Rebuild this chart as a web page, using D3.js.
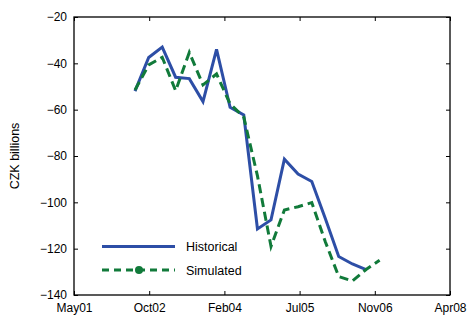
<!DOCTYPE html>
<html>
<head>
<meta charset="utf-8">
<script src="https://cdn.jsdelivr.net/npm/d3@7"></script>
<style>
  body { margin: 0; background: #fff; }
  text { font-family: "Liberation Sans", Arial, sans-serif; }
</style>
</head>
<body>
<div id="chart"></div>
<script>
// quarterly observations
const dates = [
  "2002-06-15", "2002-09-15", "2002-12-15", "2003-03-15", "2003-06-15",
  "2003-09-15", "2003-12-15", "2004-03-15", "2004-06-15", "2004-09-15",
  "2004-12-15", "2005-03-15", "2005-06-15", "2005-09-15", "2005-12-15",
  "2006-03-15", "2006-06-15", "2006-09-15", "2006-12-15"
];
const historical = [
  -52, -37.5, -33, -46, -46.6, -56.5, -34, -59, -62.3, -111.5,
  -107.6, -81.4, -87.8, -91, -107, -123.4, -126.6, -129
];
const simulated = [
  -51.5, -40.7, -37.4, -51.8, -35.3, -49.3, -44.6, -57.5, -63.2, -88.6,
  -119, -103.3, -101.9, -100.1, -117, -132, -134, -129, -125
];
const yTicks = [-140, -120, -100, -80, -60, -40, -20];
const xTickLabels = ["May01", "Oct02", "Feb04", "Jul05", "Nov06", "Apr08"];
const seriesNames = ["Historical", "Simulated"];

const W = 471, H = 317;
const margin = { left: 74, right: 21, top: 17, bottom: 22 };
const parse = d3.timeParse("%Y-%m-%d");

const svg = d3.select("#chart").append("svg")
  .attr("width", W).attr("height", H);

const x0 = parse("2001-05-01"), x1 = parse("2008-04-01");
const x = d3.scaleTime().domain([x0, x1]).range([margin.left, W - margin.right]);
const y = d3.scaleLinear().domain([-140, -20]).range([H - margin.bottom, margin.top]);

// evenly spaced date ticks, as in the original
const xTickVals = xTickLabels.map((d, i) =>
  new Date(+x0 + (x1 - x0) * i / (xTickLabels.length - 1)));

const fmtX = (d) => xTickLabels[xTickVals.findIndex(t => +t === +d)];

svg.append("g")
  .attr("transform", `translate(0,${H - margin.bottom})`)
  .call(d3.axisBottom(x).tickValues(xTickVals).tickFormat(fmtX).tickSizeInner(-4).tickSizeOuter(0).tickPadding(8))
  .call(g => g.select(".domain").remove());
svg.append("g")
  .attr("transform", `translate(0,${margin.top})`)
  .call(d3.axisTop(x).tickValues(xTickVals).tickFormat("").tickSizeInner(-4).tickSizeOuter(0))
  .call(g => g.select(".domain").remove());
svg.append("g")
  .attr("transform", `translate(${margin.left},0)`)
  .call(d3.axisLeft(y).tickValues(yTicks).tickFormat(d3.format("d")).tickSizeInner(-4).tickSizeOuter(0).tickPadding(7))
  .call(g => g.select(".domain").remove());
svg.append("g")
  .attr("transform", `translate(${W - margin.right},0)`)
  .call(d3.axisRight(y).tickValues(yTicks).tickFormat("").tickSizeInner(-4).tickSizeOuter(0))
  .call(g => g.select(".domain").remove());

svg.selectAll(".tick text").attr("font-size", 12).attr("fill", "#000")
  .style("font-family", "'Liberation Sans', Arial, sans-serif");
svg.selectAll(".tick line").attr("stroke", "#000");

svg.append("rect")
  .attr("x", margin.left).attr("y", margin.top)
  .attr("width", W - margin.left - margin.right)
  .attr("height", H - margin.top - margin.bottom)
  .attr("fill", "none").attr("stroke", "#000").attr("stroke-width", 1.3);

svg.append("text")
  .attr("transform", `translate(19,${(margin.top + H - margin.bottom) / 2}) rotate(-90)`)
  .attr("text-anchor", "middle")
  .attr("font-size", 12.5)
  .text("CZK billions");

const line = d3.line()
  .x((d, i) => x(parse(dates[i])))
  .y(d => y(d));

const blue = "#2d4ea6", green = "#117a3a";

svg.append("path").datum(historical)
  .attr("d", line).attr("fill", "none")
  .attr("stroke", blue).attr("stroke-width", 3).attr("stroke-linejoin", "miter");
svg.append("path").datum(simulated)
  .attr("d", line).attr("fill", "none")
  .attr("stroke", green).attr("stroke-width", 3).attr("stroke-dasharray", "9,5");

// legend
const leg = svg.append("g");
leg.append("line").attr("x1", 102).attr("x2", 175).attr("y1", 246.5).attr("y2", 246.5)
  .attr("stroke", blue).attr("stroke-width", 3);
leg.append("line").attr("x1", 102).attr("x2", 175).attr("y1", 270).attr("y2", 270)
  .attr("stroke", green).attr("stroke-width", 3).attr("stroke-dasharray", "7,5");
leg.append("circle").attr("cx", 139).attr("cy", 270).attr("r", 4).attr("fill", green);
leg.selectAll("text").data(seriesNames).enter().append("text")
  .attr("x", 186).attr("y", (d, i) => 251 + i * 23.5)
  .attr("font-size", 12.5)
  .text(d => d);
</script>
</body>
</html>
